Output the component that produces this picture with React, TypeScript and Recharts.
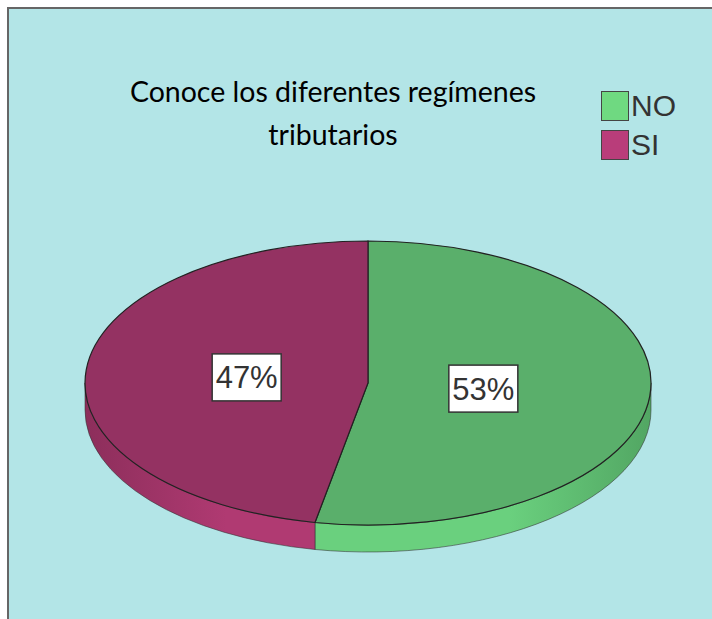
import React from 'react';
import { PieChart, Pie, Legend } from 'recharts';

const categories = ['NO', 'SI'];
const values = [53, 47];

const TOP_COLORS = ['#5aaf6b', '#943262'];
const SIDE_COLORS = ['#6ad07e', '#b03a72'];
const SIDE_EDGE = ['#52a663', '#8c2e5b'];
const LEGEND_COLORS = ['#6fd981', '#b93d7a'];

const W = 712;
const H = 619;
const RY = 142 / 283; // vertical squash of the tilted pie
const DEPTH = 27;

const data = categories.map((name, i) => ({ name, value: values[i], fill: TOP_COLORS[i] }));

function pt(cx: number, cy: number, rx: number, ry: number, a: number, dy = 0) {
  const r = (a * Math.PI) / 180;
  return [cx + rx * Math.cos(r), cy - ry * Math.sin(r) + dy];
}

function EllipseSlice(props: any) {
  const { cx, cy, outerRadius, startAngle, endAngle } = props;
  const name = props.payload?.name ?? props.name;
  const i = Math.max(0, categories.indexOf(name));
  const rx = outerRadius;
  const ry = outerRadius * RY;
  const hi = Math.max(startAngle, endAngle);
  const lo = Math.min(startAngle, endAngle);

  // front wall: parts of the slice lying in the lower half
  const walls: string[] = [];
  for (let k = -2; k <= 2; k++) {
    const a = Math.max(lo, -180 + 360 * k);
    const b = Math.min(hi, 360 * k);
    if (b - a > 0.01) {
      const [x1, y1] = pt(cx, cy, rx, ry, a);
      const [x2, y2] = pt(cx, cy, rx, ry, b);
      walls.push(
        `M${x1},${y1} A${rx},${ry} 0 0 0 ${x2},${y2} L${x2},${y2 + DEPTH} A${rx},${ry} 0 0 1 ${x1},${y1 + DEPTH} Z`
      );
    }
  }

  const [sx, sy] = pt(cx, cy, rx, ry, startAngle);
  const [ex, ey] = pt(cx, cy, rx, ry, endAngle);
  const large = hi - lo > 180 ? 1 : 0;
  const sweep = endAngle < startAngle ? 1 : 0;
  const top = `M${cx},${cy} L${sx},${sy} A${rx},${ry} 0 ${large} ${sweep} ${ex},${ey} Z`;
  const gid = `wall-grad-${i}`;

  return (
    <g>
      <defs>
        <linearGradient id={gid} gradientUnits="userSpaceOnUse" x1={cx - rx} y1={0} x2={cx + rx} y2={0}>
          <stop offset="0%" stopColor={SIDE_EDGE[i]} />
          <stop offset="25%" stopColor={SIDE_COLORS[i]} />
          <stop offset="75%" stopColor={SIDE_COLORS[i]} />
          <stop offset="100%" stopColor={SIDE_EDGE[i]} />
        </linearGradient>
      </defs>
      {walls.map((d, j) => (
        <path key={j} d={d} fill={`url(#${gid})`} stroke="#333" strokeWidth={0.8} strokeOpacity={0.7} />
      ))}
      <path d={top} fill={TOP_COLORS[i]} stroke="#222" strokeWidth={1.2} />
    </g>
  );
}

function renderLabel(p: any) {
  const { cx, cy, midAngle, outerRadius, percent } = p;
  const r = (midAngle * Math.PI) / 180;
  const x = cx + outerRadius * 0.42 * Math.cos(r) - 3;
  const y = cy - outerRadius * RY * 0.42 * Math.sin(r);
  const bw = 69;
  const bh = 47;
  return (
    <g>
      <rect x={x - bw / 2} y={y - bh / 2} width={bw} height={bh} fill="#fff" stroke="#333" strokeWidth={1.5} />
      <text
        x={x}
        y={y + 11}
        textAnchor="middle"
        fill="#333"
        fontSize={31}
        fontFamily="'Liberation Sans', Arial, sans-serif"
      >
        {`${Math.round(percent * 100)}%`}
      </text>
    </g>
  );
}

function LegendBox({ payload }: any) {
  const items = payload && payload.length ? payload : categories.map((c) => ({ value: c }));
  return (
    <div>
      {items.map((it: any) => {
        const i = Math.max(0, categories.indexOf(it.value));
        return (
          <div key={it.value} style={{ display: 'flex', alignItems: 'center', height: 39 }}>
            <span
              style={{
                display: 'inline-block',
                width: 26,
                height: 28,
                background: LEGEND_COLORS[i],
                border: '1.5px solid #444',
              }}
            />
            <span
              style={{
                marginLeft: 2,
                fontFamily: "'Liberation Sans', Arial, sans-serif",
                fontSize: 30,
                color: '#333',
                lineHeight: '30px',
              }}
            >
              {it.value}
            </span>
          </div>
        );
      })}
    </div>
  );
}

export default function App() {
  return (
    <div style={{ position: 'absolute', left: 0, top: 0, width: W, height: H, background: '#fff', overflow: 'hidden' }}>
      <div
        style={{
          position: 'absolute',
          left: 7,
          top: 7,
          width: W - 7,
          height: H - 7,
          background: '#b3e5e7',
          borderLeft: '2px solid #666',
          borderTop: '2px solid #666',
        }}
      />
      <div
        style={{
          position: 'absolute',
          left: 113,
          top: 70,
          width: 440,
          textAlign: 'center',
          fontFamily: 'Lato, sans-serif',
          fontSize: 28.5,
          lineHeight: '43px',
          color: '#000',
        }}
      >
        Conoce los diferentes regímenes
        <br />
        tributarios
      </div>
      <div style={{ position: 'absolute', left: 0, top: 0 }}>
        <PieChart width={W} height={H}>
          <Pie
            data={data}
            dataKey="value"
            nameKey="name"
            cx={363}
            cy={378}
            outerRadius={283}
            startAngle={90}
            endAngle={-270}
            shape={EllipseSlice}
            label={renderLabel}
            labelLine={false}
            isAnimationActive={false}
          />
          <Legend
            layout="vertical"
            verticalAlign="top"
            align="right"
            content={<LegendBox />}
            wrapperStyle={{ position: 'absolute', left: 601, top: 86, right: 'auto', width: 100 }}
          />
        </PieChart>
      </div>
    </div>
  );
}
